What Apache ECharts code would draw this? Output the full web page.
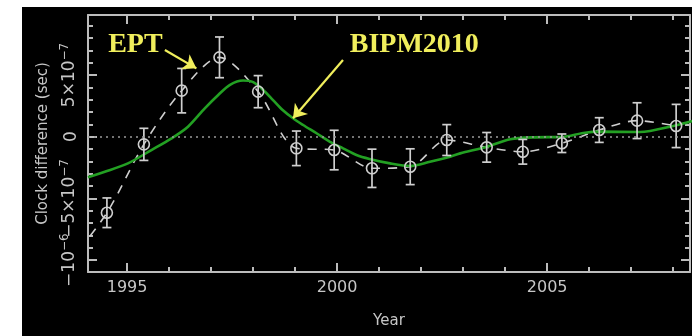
<!DOCTYPE html>
<html>
<head>
<meta charset="utf-8">
<script src="https://cdn.jsdelivr.net/npm/echarts@6/dist/echarts.min.js"></script>
<style>
  html, body { margin: 0; padding: 0; background: #fff; }
  #wrap { position: relative; width: 692px; height: 336px; overflow: hidden; }
  #panel { position: absolute; left: 22px; top: 7px; width: 670px; height: 329px; background: #000; }
  #chart { position: absolute; left: 0; top: 0; width: 692px; height: 336px; }
</style>
</head>
<body>
<div id="wrap">
  <div id="panel"></div>
  <div id="chart"></div>
</div>
<script>
// Clock difference values are stored in units of 1e-7 s.

// EPT: yearly estimates with their uncertainties
const eptYears  = [1994.52, 1995.40, 1996.30, 1997.20, 1998.12, 1999.03, 1999.93, 2000.83,
                   2001.74, 2002.61, 2003.56, 2004.42, 2005.35, 2006.24, 2007.14, 2008.07];
const eptValues = [-6.16, -0.62, 3.73, 6.43, 3.65, -0.94, -1.08, -2.56,
                   -2.43, -0.27, -0.86, -1.22, -0.53, 0.54, 1.30, 0.87];
const eptErrors = [1.2, 1.3, 1.8, 1.65, 1.3, 1.4, 1.6, 1.55,
                   1.45, 1.25, 1.2, 1.0, 0.75, 1.0, 1.45, 1.75];
// the dashed EPT curve starts before the first plotted estimate
const eptLeadYear = 1993.62;
const eptLeadValue = -10.2;

// BIPM2010 smooth curve
const bipmYears  = [1994.07, 1994.47, 1995.02, 1995.58, 1996.06, 1996.45, 1996.85, 1997.17,
                    1997.45, 1997.76, 1998.00, 1998.24, 1998.48, 1998.71, 1998.95, 1999.19,
                    1999.51, 1999.83, 2000.14, 2000.46, 2000.77, 2001.26, 2001.74, 2002.21,
                    2002.69, 2002.93, 2003.57, 2004.12, 2004.67, 2005.36, 2005.86, 2006.26,
                    2007.21, 2008.00, 2008.45];
const bipmValues = [-3.28, -2.84, -2.16, -1.08, -0.13, 0.81, 2.30, 3.38,
                    4.20, 4.55, 4.42, 3.79, 2.95, 2.14, 1.49, 0.95,
                    0.28, -0.41, -0.94, -1.48, -1.80, -2.16, -2.37, -2.03,
                    -1.62, -1.35, -0.81, -0.21, -0.05, -0.02, 0.30, 0.41,
                    0.38, 0.87, 1.27];

// axis ranges and ticks
const xMin = 1994.07, xMax = 2008.40;
const yMin = -10.96, yMax = 9.86;
const xMajorTicks = [1995, 2000, 2005];
const xTickLabels = ['1995', '2000', '2005'];
const xMinorTicks = [1995, 1996, 1997, 1998, 1999, 2000, 2001, 2002, 2003, 2004, 2005, 2006, 2007, 2008];
const yMajorTicks = [-10, -5, 0, 5];
const yTickLabels = ['\u221210{s|\u22126}', '\u22125\u00D710{s|\u22127}', '0', '5\u00D710{s|\u22127}'];
const yMinorTicks = [-10, -9, -8, -7, -6, -5, -4, -3, -2, -1, 0, 1, 2, 3, 4, 5, 6, 7, 8, 9];

// annotations: text anchored at [year, value]; arrows run [from] -> [to]
const noteTexts  = ['EPT', 'BIPM2010'];
const noteAnchor = [[1994.55, 7.43], [2000.30, 7.43]];
const noteArrows = [[[1995.90, 7.03], [1996.65, 5.54]],
                    [[2000.14, 6.21], [1998.95, 1.49]]];

const frameColor = '#bcbcbc';
const textColor = '#c6c6c6';
const eptColor = '#cfcfcf';
const bipmColor = '#23a023';
const noteColor = '#f0ee5c';
const labelFont = 'DejaVu Sans';

function xAxisDef(pos, major, withLabels) {
  return {
    type: 'value', position: pos, min: xMin, max: xMax,
    gridIndex: 0,
    axisLine: { show: major, onZero: false, lineStyle: { color: frameColor, width: 2 } },
    axisTick: { show: true, inside: true, length: major ? 9 : 5,
                customValues: major ? xMajorTicks : xMinorTicks,
                lineStyle: { color: frameColor, width: 2 } },
    axisLabel: withLabels ? {
      show: true, customValues: xMajorTicks, margin: 8,
      color: textColor, fontFamily: labelFont, fontSize: 16,
      formatter: v => xTickLabels[xMajorTicks.indexOf(Math.round(v))] || ''
    } : { show: false },
    splitLine: { show: false },
    name: withLabels ? 'Year' : '',
    nameLocation: 'middle', nameGap: 42,
    nameTextStyle: { color: textColor, fontFamily: labelFont, fontSize: 15 }
  };
}

// labelValues: which of the major tick labels this axis carries (neighbouring
// labels sit on separate axes so the tight pair at the bottom both stay visible)
function yAxisDef(pos, major, labelValues, withName) {
  return {
    type: 'value', position: pos, min: yMin, max: yMax,
    gridIndex: 0,
    axisLine: { show: major, onZero: false, lineStyle: { color: frameColor, width: 2 } },
    axisTick: { show: true, inside: true, length: major ? 9 : 5,
                customValues: major ? yMajorTicks : yMinorTicks,
                lineStyle: { color: frameColor, width: 2 } },
    axisLabel: labelValues ? {
      show: true, customValues: labelValues, rotate: 90, margin: 8,
      showMinLabel: true, showMaxLabel: true,
      color: textColor, fontFamily: labelFont, fontSize: 17,
      formatter: v => yTickLabels[yMajorTicks.indexOf(Math.round(v))] || '',
      rich: {
        s: { fontSize: 12, color: textColor, fontFamily: labelFont, padding: [0, 0, 9, 0] }
      }
    } : { show: false },
    splitLine: { show: false },
    name: withName ? 'Clock difference (sec)' : '',
    nameLocation: 'middle', nameGap: 30, nameRotate: 90,
    nameTextStyle: { color: textColor, fontFamily: labelFont, fontSize: 15 }
  };
}

const eptPoints = eptYears.map((x, i) => [x, eptValues[i], eptErrors[i]]);
const eptCurve = [[eptLeadYear, eptLeadValue]].concat(eptYears.map((x, i) => [x, eptValues[i]]));
const bipmCurve = bipmYears.map((x, i) => [x, bipmValues[i]]);

const chart = echarts.init(document.getElementById('chart'), null, { renderer: 'canvas' });

const option = {
  animation: false,
  backgroundColor: 'transparent',
  grid: { left: 88, top: 15, right: 2, bottom: 64, containLabel: false },
  xAxis: [
    xAxisDef('bottom', true, true),
    xAxisDef('bottom', false, false),
    xAxisDef('top', true, false),
    xAxisDef('top', false, false)
  ],
  yAxis: [
    yAxisDef('left', true, [yMajorTicks[1], yMajorTicks[3]], true),
    yAxisDef('left', false, [yMajorTicks[0], yMajorTicks[2]], false),
    yAxisDef('right', true, null, false),
    yAxisDef('right', false, null, false)
  ],
  series: [
    {
      // zero reference
      type: 'line', data: [], xAxisIndex: 0, yAxisIndex: 0,
      markLine: {
        silent: true, symbol: ['none', 'none'], label: { show: false },
        lineStyle: { color: '#9a9a9a', width: 1.5, type: [2, 4] },
        data: [{ yAxis: 0 }]
      },
      z: 1
    },
    {
      name: 'EPT curve', type: 'line', data: eptCurve, xAxisIndex: 0, yAxisIndex: 0,
      smooth: 0.3, showSymbol: false, clip: true,
      lineStyle: { color: eptColor, width: 1.6, type: [9, 8] },
      z: 2
    },
    {
      name: 'BIPM2010', type: 'line', data: bipmCurve, xAxisIndex: 0, yAxisIndex: 0,
      smooth: 0.3, showSymbol: false, clip: true,
      lineStyle: { color: bipmColor, width: 2.6 },
      z: 3
    },
    {
      // annotation arrows
      type: 'line', data: [], xAxisIndex: 0, yAxisIndex: 0,
      markLine: {
        silent: true, symbol: ['none', 'arrow'], symbolSize: 13,
        label: { show: false },
        lineStyle: { color: noteColor, width: 2.2, type: 'solid' },
        data: noteArrows.map(a => [{ coord: a[0] }, { coord: a[1] }])
      },
      z: 6
    },
    {
      name: 'EPT', type: 'custom', data: eptPoints, xAxisIndex: 0, yAxisIndex: 0,
      clip: true, z: 4,
      renderItem: function (params, api) {
        const x = api.value(0), y = api.value(1), e = api.value(2);
        const c = api.coord([x, y]);
        const t = api.coord([x, y + e]);
        const b = api.coord([x, y - e]);
        const cap = 4.5;
        const st = { stroke: eptColor, lineWidth: 1.7, fill: null };
        return {
          type: 'group',
          children: [
            { type: 'line', shape: { x1: c[0], y1: t[1], x2: c[0], y2: b[1] }, style: st },
            { type: 'line', shape: { x1: c[0] - cap, y1: t[1], x2: c[0] + cap, y2: t[1] }, style: st },
            { type: 'line', shape: { x1: c[0] - cap, y1: b[1], x2: c[0] + cap, y2: b[1] }, style: st },
            { type: 'circle', shape: { cx: c[0], cy: c[1], r: 5.5 }, style: { stroke: eptColor, lineWidth: 1.6, fill: 'rgba(0,0,0,0)' } }
          ]
        };
      }
    }
  ]
};

chart.setOption(option);

// place the yellow annotation labels at their data positions
const notes = noteTexts.map((txt, i) => {
  const p = chart.convertToPixel({ xAxisIndex: 0, yAxisIndex: 0 }, noteAnchor[i]);
  return {
    type: 'text', x: p[0], y: p[1], z: 10, silent: true,
    style: {
      text: txt, fill: noteColor,
      font: 'bold 28px "Liberation Serif", "Times New Roman", serif',
      verticalAlign: 'middle', align: 'left'
    }
  };
});
chart.setOption({ graphic: notes });
</script>
</body>
</html>
